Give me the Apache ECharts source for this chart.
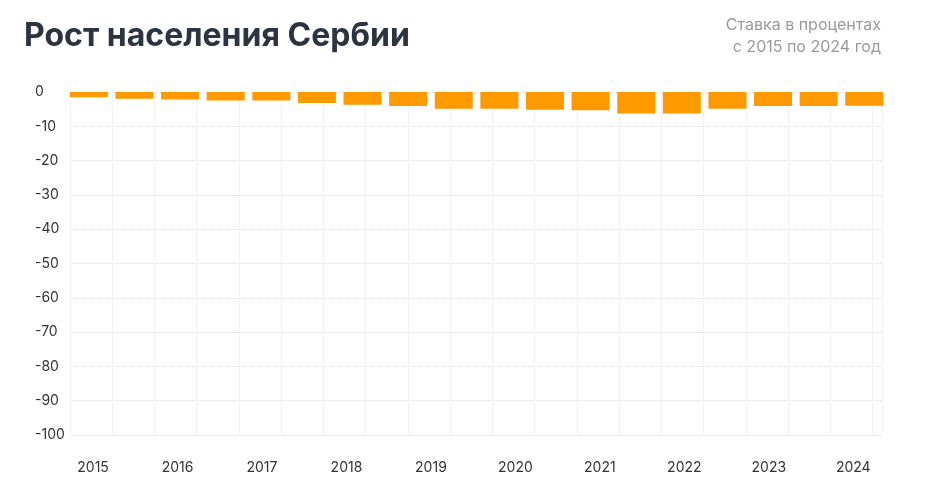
<!DOCTYPE html><html><head><meta charset="utf-8"><script src="https://cdn.jsdelivr.net/npm/echarts@6/dist/echarts.min.js"></script>
<style>body{margin:0}#c{width:935px;height:491px}</style></head><body><div id="c"></div><script>
const positions=[2014.95,2015.49,2016.03,2016.57,2017.11,2017.65,2018.19,2018.73,2019.27,2019.81,2020.35,2020.89,2021.43,2021.97,2022.51,2023.05,2023.59,2024.13];
const values=[-1.5,-2.0,-2.2,-2.5,-2.5,-3.2,-3.7,-4.1,-4.9,-4.9,-5.2,-5.3,-6.3,-6.3,-4.9,-4.1,-4.1,-4.0];
const yearTicks=[2015,2016,2017,2018,2019,2020,2021,2022,2023,2024];
const c=echarts.init(document.getElementById('c'));
c.setOption({
 title:[{text:'Рост населения Сербии',left:19,top:15,textStyle:{fontFamily:'Inter',fontSize:32,fontWeight:'bold',color:'#2b3440'}}],
 graphic:[{type:'text',x:881,y:14,style:{text:'Ставка в процентах\nс 2015 по 2024 год',align:'right',verticalAlign:'top',fontFamily:'Inter',fontSize:16,fill:'#9a9a9a',lineHeight:22}}],
 grid:{left:70,right:53,top:92,bottom:56},
 xAxis:{type:'value',min:2014.727,max:2024.34,interval:0.5,axisLine:{show:false},axisTick:{show:false},
  splitLine:{show:true,lineStyle:{color:'#f3f3f3'}},
  axisLabel:{margin:26,fontFamily:'Inter',fontSize:14,color:'#333',customValues:yearTicks,formatter:v=>String(Math.round(v))}},
 yAxis:{type:'value',min:-100,max:0,interval:10,axisLine:{show:false},axisTick:{show:false},
  axisLabel:{fontFamily:'Inter',fontSize:14,color:'#333',margin:35,align:'left',formatter:v=>String(v),verticalAlign:'middle',padding:[0,0,6,0]},
  splitLine:{lineStyle:{color:'#dddddd',type:'dotted'}}},
 series:[{type:'bar',barWidth:38,data:positions.map((p,i)=>[p,values[i]]),itemStyle:{color:'#ff9900'}}]
});
</script></body></html>
